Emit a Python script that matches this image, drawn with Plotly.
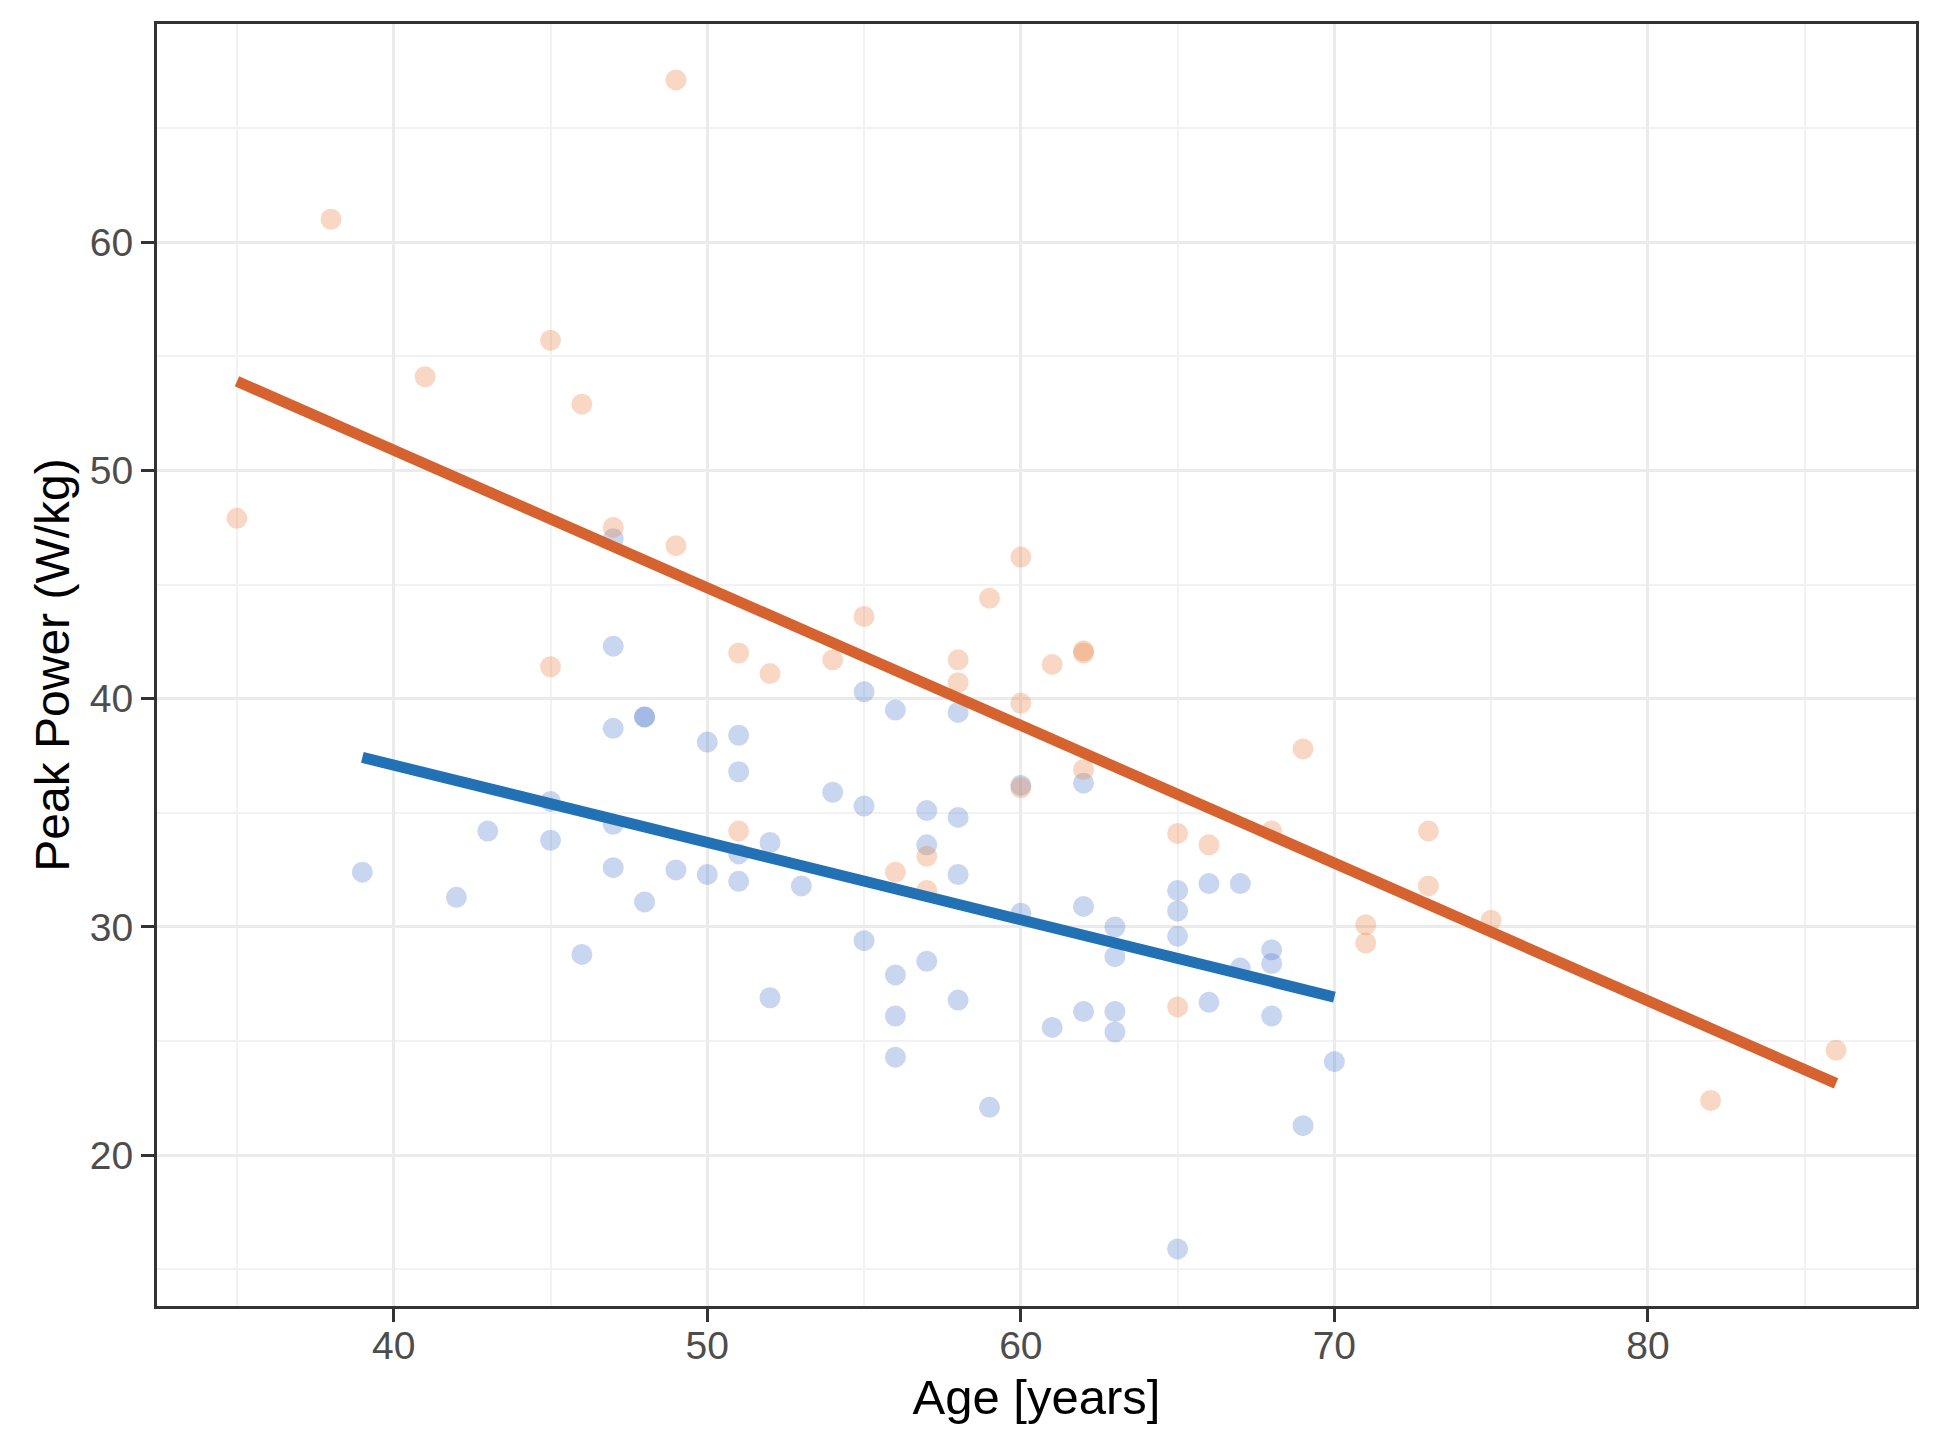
import plotly.graph_objects as go

# ---- data ----
orange_age = [35, 38, 41, 45, 46, 49, 47, 49, 45, 51, 52, 54, 55, 51, 56, 57, 57, 58, 58, 59,
              60, 60, 60, 61, 62, 62, 62, 65, 66, 65, 68, 69, 71, 71, 73, 73, 75, 82, 86]
orange_power = [47.9, 61.0, 54.1, 55.7, 52.9, 67.1, 47.5, 46.7, 41.4, 42.0, 41.1, 41.7, 43.6, 34.2,
                32.4, 33.1, 31.6, 41.7, 40.7, 44.4, 46.2, 39.8, 36.1, 41.5, 42.1, 42.0, 36.9, 34.1,
                33.6, 26.5, 34.2, 37.8, 30.1, 29.3, 34.2, 31.8, 30.3, 22.4, 24.6]

blue_age = [39, 42, 43, 45, 45, 46, 47, 47, 47, 47, 47, 48, 48, 48, 49, 50, 50, 51, 51, 51,
            51, 52, 52, 53, 54, 55, 55, 55, 56, 56, 56, 56, 57, 57, 57, 58, 58, 58, 58, 59,
            60, 60, 61, 62, 62, 62, 63, 63, 63, 63, 65, 65, 65, 65, 66, 66, 67, 67, 68, 68,
            68, 69, 70]
blue_power = [32.4, 31.3, 34.2, 33.8, 35.5, 28.8, 42.3, 38.7, 34.5, 32.6, 47.0, 39.2, 39.2, 31.1,
              32.5, 38.1, 32.3, 38.4, 36.8, 33.2, 32.0, 33.7, 26.9, 31.8, 35.9, 40.3, 35.3, 29.4,
              39.5, 27.9, 26.1, 24.3, 35.1, 33.6, 28.5, 39.4, 34.8, 32.3, 26.8, 22.1, 36.2, 30.6,
              25.6, 36.3, 30.9, 26.3, 30.0, 28.7, 26.3, 25.4, 31.6, 30.7, 29.6, 15.9, 31.9, 26.7,
              31.9, 28.2, 29.0, 28.4, 26.1, 21.3, 24.1]

# fitted regression lines (end points)
orange_fit_age = [35, 86]
orange_fit_power = [53.9, 23.15]
blue_fit_age = [39, 70]
blue_fit_power = [37.43, 26.93]

x_ticks = [40, 50, 60, 70, 80]
x_minor = [35, 45, 55, 65, 75, 85]
y_ticks = [20, 30, 40, 50, 60]
y_minor = [15, 25, 35, 45, 55, 65]

x_title = "Age [years]"
y_title = "Peak Power (W/kg)"

FONT = "Liberation Sans, Arial, Helvetica, sans-serif"

fig = go.Figure()
fig.add_trace(go.Scatter(x=blue_age, y=blue_power, mode="markers",
                         marker=dict(size=21, color="rgba(88,128,205,0.32)", line=dict(width=0)),
                         showlegend=False, hoverinfo="skip"))
fig.add_trace(go.Scatter(x=orange_age, y=orange_power, mode="markers",
                         marker=dict(size=21, color="rgba(232,128,64,0.31)", line=dict(width=0)),
                         showlegend=False, hoverinfo="skip"))
fig.add_trace(go.Scatter(x=blue_fit_age, y=blue_fit_power, mode="lines",
                         line=dict(color="#2271B4", width=11), showlegend=False))
fig.add_trace(go.Scatter(x=orange_fit_age, y=orange_fit_power, mode="lines",
                         line=dict(color="#D6622F", width=11), showlegend=False))

axis_common = dict(
    showline=True, linecolor="#333333", linewidth=3, mirror=True,
    ticks="outside", ticklen=13, tickwidth=3, tickcolor="#333333",
    showgrid=True, gridcolor="#EBEBEB", gridwidth=3,
    zeroline=False,
    tickfont=dict(family=FONT, size=39, color="#4D4D4D"),
    automargin=False,
)

fig.update_xaxes(**axis_common, range=[32.45, 88.55], tickmode="array", tickvals=x_ticks,
                 ticktext=[str(v) for v in x_ticks], ticklabelstandoff=-10,
                 minor=dict(tickmode="array", tickvals=x_minor, showgrid=True,
                            gridcolor="#F2F2F2", gridwidth=1.5, ticks=""),
                 title=dict(text=x_title, font=dict(family=FONT, size=49, color="#000000"),
                            standoff=14))
fig.update_yaxes(**axis_common, range=[13.4, 69.55], tickmode="array", tickvals=y_ticks,
                 ticktext=[str(v) for v in y_ticks],
                 minor=dict(tickmode="array", tickvals=y_minor, showgrid=True,
                            gridcolor="#F2F2F2", gridwidth=1.5, ticks=""),
                 title=dict(text=y_title, font=dict(family=FONT, size=48, color="#000000"),
                            standoff=6))

# the page body adds an 8 px margin, so the figure is 8 px smaller and margins shifted
fig.update_layout(
    width=1938, height=1440,
    margin=dict(l=149, r=30, t=16, b=142, pad=0),
    paper_bgcolor="white", plot_bgcolor="white",
    font=dict(family=FONT),
)

fig.write_html("out.html")
